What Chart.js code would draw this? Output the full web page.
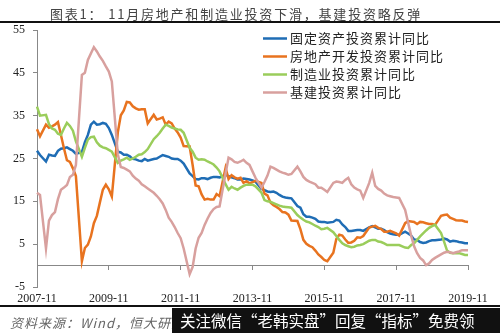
<!DOCTYPE html>
<html>
<head>
<meta charset="utf-8">
<script src="https://cdn.jsdelivr.net/npm/chart.js@4.4.1/dist/chart.umd.min.js"></script>
<style>
  body { margin: 0; background: #fff; }
  #wrap { position: relative; width: 500px; height: 333px; overflow: hidden; background: #fff; }
  #c { position: absolute; left: 0; top: 0; }
  .title { position: absolute; left: 50px; top: 4px; line-height: 16px; font: 13px "Noto Sans CJK SC"; letter-spacing: 1.8px; color: #444; white-space: nowrap; }
  .rule { position: absolute; left: 0; width: 500px; background: #111; }
  .src { position: absolute; left: 10px; top: 313px; line-height: 16px; font: italic 13px "Noto Sans CJK SC"; letter-spacing: 1px; color: #666; white-space: nowrap; }
  .wm { position: absolute; left: 172px; top: 308px; width: 328px; height: 25px; background: #111; color: #fff; font: 15.5px "Noto Sans CJK SC"; line-height: 25px; padding-left: 8px; box-sizing: border-box; white-space: nowrap; }
</style>
</head>
<body>
<div id="wrap">
  <canvas id="c" width="500" height="333"></canvas>
  <div class="title">图表1：&nbsp;11月房地产和制造业投资下滑，基建投资略反弹</div>
  <div class="rule" style="top:21px;height:2px"></div>
  <div class="rule" style="top:305px;height:2px"></div>
  <div class="src">资料来源：Wind，恒大研究院</div>
  <div class="wm">关注微信“老韩实盘”回复“指标”免费领</div>
</div>
<script>
// monthly categories 2007-11 .. 2019-11 (January has no data in China's cumulative series)
const months = [];
for (let y = 2007, m = 11; y < 2019 || (y === 2019 && m <= 11);) {
  months.push(y + '-' + String(m).padStart(2, '0'));
  m++;
  if (m > 12) { m = 1; y++; }
}
const xTickLabels = ['2007-11', '2009-11', '2011-11', '2013-11', '2015-11', '2017-11', '2019-11'];
const yTicks = [-5, 5, 15, 25, 35, 45, 55];

const seriesNames = ['固定资产投资累计同比', '房地产开发投资累计同比', '制造业投资累计同比', '基建投资累计同比'];

const fixedAsset = [26.8, 25.8,
  null, 24.3, 25.9, 25.7, 25.6, 26.8, 27.3, 27.4, 27.6, 27.2, 26.8, 26.1,
  null, 26.5, 28.8, 30.5, 32.9, 33.6, 32.9, 33.0, 33.3, 33.1, 32.1, 30.5,
  null, 26.6, 26.4, 25.9, 25.9, 25.5, 24.9, 24.8, 24.5, 24.4, 24.9, 24.5,
  null, 24.9, 25.0, 25.4, 25.8, 25.6, 25.4, 25.0, 24.9, 24.9, 24.5, 23.8,
  null, 21.5, 20.9, 20.2, 20.1, 20.4, 20.4, 20.2, 20.5, 20.7, 20.7, 20.6,
  null, 21.2, 20.9, 20.6, 20.4, 20.1, 20.1, 20.3, 20.2, 20.1, 19.9, 19.6,
  null, 17.9, 17.6, 17.3, 17.2, 17.3, 17.0, 16.5, 16.1, 15.9, 15.8, 15.7,
  null, 13.9, 13.5, 12.0, 11.4, 11.4, 11.2, 10.9, 10.3, 10.2, 10.2, 10.0,
  null, 10.2, 10.7, 10.5, 9.6, 9.0, 8.1, 8.1, 8.2, 8.3, 8.3, 8.1,
  null, 8.9, 9.2, 8.9, 8.6, 8.6, 8.3, 7.8, 7.5, 7.3, 7.2, 7.2,
  null, 7.9, 7.5, 7.0, 6.1, 6.0, 5.5, 5.3, 5.4, 5.7, 5.9, 5.9,
  null, 6.1, 6.3, 6.1, 5.6, 5.8, 5.7, 5.5, 5.4, 5.2, 5.2];

const realEstate = [31.8, 30.2,
  null, 32.9, 32.2, 32.5, 32.9, 33.5, 30.5, 27.4, 24.6, 24.2, 22.7, 20.9,
  null, 1.0, 4.1, 4.9, 6.8, 9.9, 11.6, 14.7, 17.7, 18.9, 17.8, 16.1,
  null, 31.1, 35.1, 36.2, 38.2, 38.1, 37.2, 36.7, 36.4, 36.5, 36.5, 33.2,
  null, 35.2, 34.1, 34.3, 34.6, 32.9, 33.6, 33.2, 32.0, 31.1, 29.9, 27.9,
  null, 27.8, 23.5, 18.7, 18.5, 16.6, 15.4, 15.6, 15.4, 15.4, 16.7, 16.2,
  null, 22.8, 20.2, 21.1, 20.6, 20.3, 20.5, 19.3, 19.7, 19.2, 19.5, 19.8,
  null, 19.3, 16.8, 16.4, 14.7, 14.1, 13.7, 13.2, 12.5, 12.4, 11.9, 10.5,
  null, 10.4, 8.5, 6.0, 5.1, 4.6, 4.3, 3.5, 2.6, 2.0, 1.3, 1.0,
  null, 3.0, 6.2, 7.2, 7.0, 6.1, 5.3, 5.4, 5.8, 6.6, 6.5, 6.9,
  null, 8.9, 9.1, 9.3, 8.8, 8.5, 7.9, 7.9, 8.1, 7.8, 7.5, 7.0,
  null, 9.9, 10.4, 10.3, 10.2, 9.7, 10.2, 10.1, 9.9, 9.7, 9.7, 9.5,
  null, 11.6, 11.8, 11.9, 11.2, 10.9, 10.6, 10.5, 10.5, 10.3, 10.2];

const manufacturing = [37.1, 35.0,
  null, 35.2, 33.0, 32.0, 31.7, 30.8, 30.5, 32.0, 33.3, 32.6, 31.5, 29.0,
  null, 25.4, 27.5, 29.4, 30.0, 30.1, 28.8, 28.0, 27.6, 27.4, 27.0, 26.6,
  null, 24.0, 24.5, 24.8, 25.2, 24.7, 25.0, 25.4, 25.9, 26.0, 26.5, 27.2,
  null, 29.5, 30.2, 31.0, 32.0, 32.9, 32.6, 32.2, 32.0, 31.8, 31.7, 31.0,
  null, 27.5, 26.6, 25.2, 24.7, 24.8, 24.7, 24.3, 24.0, 23.6, 22.9, 22.0,
  null, 19.0, 17.7, 18.4, 18.0, 17.7, 18.2, 18.6, 18.9, 18.9, 18.9, 18.5,
  null, 17.0, 15.3, 15.0, 14.9, 14.6, 14.3, 14.0, 13.8, 13.7, 13.6, 13.5,
  null, 11.8, 11.2, 10.7, 10.3, 10.1, 9.7, 9.3, 9.0, 8.5, 8.6, 8.8,
  null, 7.8, 6.9, 6.0, 5.2, 4.8, 4.5, 4.3, 4.4, 4.7, 4.8, 5.0,
  null, 5.8, 6.0, 6.0, 5.6, 5.5, 5.2, 4.8, 4.8, 4.8, 4.8, 4.8,
  null, 4.2, 4.1, 4.8, 5.2, 6.0, 6.8, 7.5, 8.2, 8.8, 9.2, 9.5,
  null, 7.6, 5.6, 3.5, 3.0, 2.9, 2.9, 2.9, 2.7, 2.5, 2.5];

const infrastructure = [17.0, 16.5,
  null, 4.0, 10.5, 11.8, 12.5, 15.5, 17.7, 18.2, 18.8, 20.7, 21.2, 23.5,
  null, 44.5, 45.0, 48.0, 49.5, 51.0, 50.0, 48.8, 47.8, 46.5, 45.3, 43.0,
  null, 26.0, 23.0, 22.8, 22.4, 22.0, 21.0, 20.3, 19.8, 19.0, 18.5, 18.0,
  null, 17.0, 16.3, 15.5, 14.5, 13.0, 11.2, 10.2, 9.0, 7.6, 6.4, 4.0,
  null, -2.0, -0.3, 4.0, 6.5, 7.6, 9.5, 11.0, 12.3, 13.2, 13.7, 13.8,
  null, 21.5, 25.2, 24.8, 24.2, 24.0, 24.3, 24.7, 24.0, 23.5, 22.0, 20.5,
  null, 18.2, 19.5, 21.0, 23.1, 22.8, 22.4, 22.0, 21.7, 21.5, 21.2, 21.4,
  null, 23.1, 22.0, 20.7, 20.0, 19.6, 19.3, 19.0, 18.2, 18.2, 17.7, 17.2,
  null, 19.3, 19.6, 19.5, 19.3, 20.0, 20.5, 19.0, 18.2, 17.8, 17.5, 15.8,
  null, 19.3, 21.7, 18.6, 17.9, 17.5, 16.8, 16.4, 16.2, 16.0, 15.9, 15.8,
  null, 13.0, 10.0, 7.0, 4.5, 2.9, 1.8, 1.2, 0.1, 0.5, 1.3, 1.8,
  null, 2.6, 3.0, 3.2, 3.1, 2.9, 3.1, 3.3, 3.6, 3.6, 3.6];

const colors = ['#1f6db5', '#e8731f', '#9acd5b', '#d8a09e'];

const insideLegend = {
  id: 'insideLegend',
  afterDraw(chart) {
    const ctx = chart.ctx, area = chart.chartArea;
    ctx.save();
    ctx.font = '13px "Noto Sans CJK SC"';
    ctx.letterSpacing = '1px';
    ctx.textBaseline = 'middle';
    chart.data.datasets.forEach((ds, i) => {
      const y = area.top + 8.5 + i * 18;
      const x = area.left + 226;
      ctx.strokeStyle = ds.borderColor;
      ctx.lineWidth = 2.5;
      ctx.beginPath();
      ctx.moveTo(x, y);
      ctx.lineTo(x + 24, y);
      ctx.stroke();
      ctx.fillStyle = '#222';
      ctx.fillText(ds.label, x + 27, y);
    });
    ctx.restore();
  }
};

const serif = { family: '"Liberation Serif", serif', size: 12 };

new Chart(document.getElementById('c'), {
  type: 'line',
  data: {
    labels: months,
    datasets: [
      { label: seriesNames[0], data: fixedAsset, borderColor: colors[0], order: 4 },
      { label: seriesNames[1], data: realEstate, borderColor: colors[1], order: 3 },
      { label: seriesNames[2], data: manufacturing, borderColor: colors[2], order: 2 },
      { label: seriesNames[3], data: infrastructure, borderColor: colors[3], order: 1 }
    ]
  },
  options: {
    responsive: false,
    animation: false,
    spanGaps: true,
    elements: { line: { borderWidth: 2.5, tension: 0, fill: false }, point: { radius: 0 } },
    layout: { padding: { top: 30, right: 32, bottom: 0, left: 0 } },
    plugins: { legend: { display: false }, tooltip: { enabled: false } },
    scales: {
      x: {
        type: 'category',
        offset: false,
        afterFit: s => { s.height = 46; },
        grid: { display: false, drawTicks: false },
        border: { display: false },
        ticks: {
          autoSkip: false, maxRotation: 0, padding: 5, color: '#222', font: serif,
          callback: function (v, i) { const l = this.getLabelForValue(v); return xTickLabels.includes(l) ? l : ''; }
        }
      },
      x0: {
        type: 'category',
        offset: false,
        position: { y: 0 },
        afterFit: s => { s.height = 0; },
        grid: {
          drawOnChartArea: false, drawTicks: true, tickLength: 4,
          color: ctx => xTickLabels.includes(months[ctx.index]) ? '#888' : 'rgba(0,0,0,0)'
        },
        border: { display: true, color: '#888', width: 1 },
        ticks: { display: false, autoSkip: false }
      },
      y: {
        min: -5, max: 55,
        afterFit: s => { s.width = 37; },
        afterBuildTicks: s => { s.ticks = yTicks.map(v => ({ value: v })); },
        grid: { drawOnChartArea: false, drawTicks: true, tickLength: 4, color: '#888' },
        border: { display: true, color: '#888', width: 1 },
        ticks: { padding: 8, color: '#222', font: serif }
      }
    }
  },
  plugins: [insideLegend]
});
</script>
</body>
</html>
